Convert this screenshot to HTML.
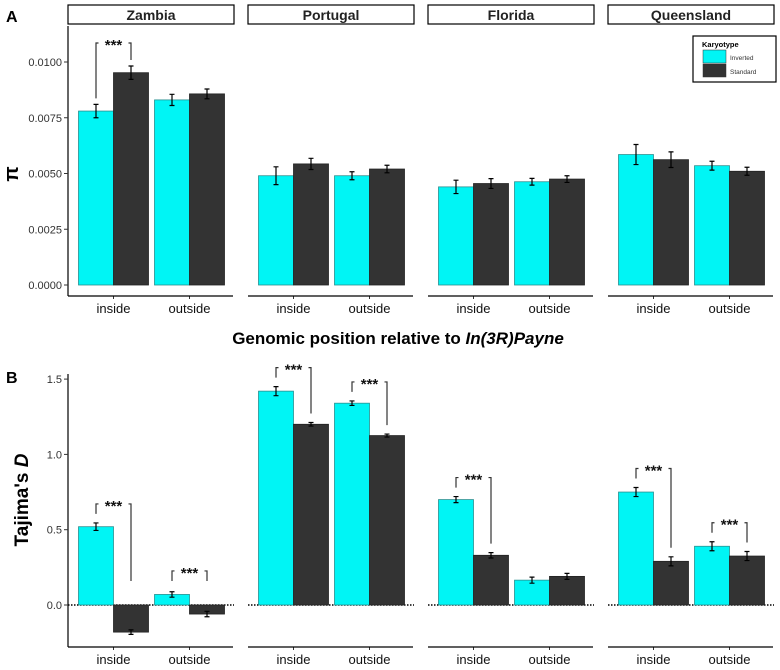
<!DOCTYPE html>
<html><head><meta charset="utf-8">
<style>
body{margin:0;background:#fff;}
svg{display:block;font-family:"Liberation Sans",Arial,sans-serif;}
</style></head>
<body>
<svg id="chart" width="780" height="670" viewBox="0 0 780 670"></svg>
<script>
const regions = ["Zambia","Portugal","Florida","Queensland"];
const positions = ["inside","outside"];
// pi values [region][position] = [inverted, standard]
const piInverted = [[0.0078,0.0083],[0.0049,0.0049],[0.0044,0.00463],[0.00585,0.00535]];
const piStandard = [[0.00952,0.00857],[0.00543,0.0052],[0.00455,0.00475],[0.00562,0.0051]];
const piInvErr = [[0.0003,0.00025],[0.0004,0.00018],[0.0003,0.00015],[0.00045,0.0002]];
const piStdErr = [[0.0003,0.00022],[0.00025,0.00017],[0.00022,0.00015],[0.00035,0.00018]];
const piTicks = [0,0.0025,0.005,0.0075,0.01];
const piTickLabels = ["0.0000","0.0025","0.0050","0.0075","0.0100"];
const piSig = [[true,false],[false,false],[false,false],[false,false]];
const tdInverted = [[0.52,0.07],[1.42,1.34],[0.70,0.165],[0.75,0.39]];
const tdStandard = [[-0.18,-0.06],[1.20,1.125],[0.33,0.19],[0.29,0.325]];
const tdInvErr = [[0.025,0.018],[0.03,0.015],[0.02,0.02],[0.03,0.03]];
const tdStdErr = [[0.015,0.018],[0.012,0.01],[0.018,0.02],[0.03,0.03]];
const tdTicks = [0,0.5,1.0,1.5];
const tdTickLabels = ["0.0","0.5","1.0","1.5"];
const tdSig = [[true,true],[true,true],[true,false],[true,true]];

const svg = document.getElementById('chart');
const NS = 'http://www.w3.org/2000/svg';
function mk(tag, attrs, parent){const e=document.createElementNS(NS,tag);for(const k in attrs)e.setAttribute(k,attrs[k]);(parent||svg).appendChild(e);return e;}
const CYAN="#00f5f5", DARK="#333333";
function panelX(i){return 68+180*i;}
function barX(i,p,s){return panelX(i)+10.5+76*p+35*s;}

function drawPanel(o){
  const y=o.y;
  // y axis
  const ya=mk('line',{x1:68,x2:68,y1:o.axTop,y2:o.axBottom,stroke:'#000','stroke-width':1.2});
  
  o.ticks.forEach((t,k)=>{
    mk('line',{x1:64,x2:68,y1:y(t),y2:y(t),stroke:'#333'});
    const tx=mk('text',{x:62,y:y(t)+4,'text-anchor':'end','font-size':11,fill:'#333'});
    tx.textContent=o.tickLabels[k];
    
  });
  regions.forEach((r,i)=>{
    const px=panelX(i);
    const g=mk('g',{});
    
    if(o.zeroLine){
      const zl=mk('line',{x1:px,x2:px+166,y1:y(0),y2:y(0),stroke:'#000','stroke-width':1.5,'stroke-dasharray':'1.5,1.5'},g);
      
    }
    positions.forEach((pos,p)=>{
      [[o.inv,o.invErr,CYAN],[o.std,o.stdErr,DARK]].forEach((d,s)=>{
        const v=d[0][i][p], e=d[1][i][p];
        const x=barX(i,p,s);
        const y0=y(0), y1=y(v);
        const b=mk('rect',{x:x,y:Math.min(y0,y1),width:35,height:Math.abs(y1-y0),fill:d[2],stroke:s?'#222':'#2a9090','stroke-width':0.8},g);
        
        
        const cx=x+17.5;
        const eb=mk('path',{d:`M${cx},${y(v+e)}V${y(v-e)}M${cx-2.5},${y(v+e)}h5M${cx-2.5},${y(v-e)}h5`,stroke:'#000','stroke-width':1.2,fill:'none'},g);
        
      });
      if(o.sig[i][p]){
        const xa=barX(i,p,0)+17.5, xb=barX(i,p,1)+17.5;
        const ta=Math.max(o.inv[i][p]+o.invErr[i][p],o.minLeg), tb=Math.max(o.std[i][p]+o.stdErr[i][p],o.minLeg);
        const la=y(ta)-o.gap, lb=y(tb)-o.gap;
        const by=Math.min(la,lb)-o.bgap;
        const br=mk('path',{d:`M${xa},${la}V${by}H${xb}V${lb}`,stroke:'#333','stroke-width':1.2,fill:'none'},g);
        
        const st=mk('rect',{x:(xa+xb)/2-15,y:by-3,width:30,height:6,fill:'#fff'},g);
        const tx=mk('text',{x:(xa+xb)/2,y:by+7,'text-anchor':'middle','font-size':15,'font-weight':'bold',fill:'#111'},g);
        tx.textContent='***';
        
      }
      const lx=barX(i,p,1);
      mk('line',{x1:lx,x2:lx,y1:o.axBottom,y2:o.axBottom+3,stroke:'#333'},g);
      const lt=mk('text',{x:lx,y:o.axBottom+17,'text-anchor':'middle','font-size':13,fill:'#111'},g);
      lt.textContent=pos;
      
    });
    const xa=mk('line',{x1:px,x2:px+165,y1:o.axBottom,y2:o.axBottom,stroke:'#000','stroke-width':1.2},g);
    
    if(o.strips){
      const sr=mk('rect',{x:px,y:5,width:166,height:19,fill:'#fff',stroke:'#000','stroke-width':1.2},g);
      
      const stt=mk('text',{x:px+83,y:20,'text-anchor':'middle','font-size':14,'font-weight':'bold',fill:'#222'},g);
      stt.textContent=r;
      
    }
  });
}
const yA=v=>285-v/0.0025*55.75;
drawPanel({name:'pi',y:yA,axTop:26,axBottom:296,ticks:piTicks,tickLabels:piTickLabels,inv:piInverted,std:piStandard,invErr:piInvErr,stdErr:piStdErr,sig:piSig,strips:true,zeroLine:false,minLeg:0,gap:6,bgap:17});
const yB=v=>605-v/0.5*75.3;
drawPanel({name:'tajima',y:yB,axTop:374,axBottom:647,ticks:tdTicks,tickLabels:tdTickLabels,inv:tdInverted,std:tdStandard,invErr:tdInvErr,stdErr:tdStdErr,sig:tdSig,strips:false,zeroLine:true,minLeg:0.1,gap:9,bgap:10});

function txt(a,s,name){const t=mk('text',a);t.innerHTML=s;return t;}
txt({x:6,y:22,'font-size':16,'font-weight':'bold'},'A','panel-a-label');
txt({x:6,y:383,'font-size':16,'font-weight':'bold'},'B','panel-b-label');
txt({x:18,y:174,'font-size':20,'font-weight':'bold',transform:'rotate(-90 18 174)','text-anchor':'middle'},'π','pi-y-axis-title');
txt({x:28,y:500,'font-size':19,'font-weight':'bold',transform:'rotate(-90 28 500)','text-anchor':'middle'},"Tajima's <tspan font-style='italic'>D</tspan>",'tajima-y-axis-title');
txt({x:398,y:344,'font-size':17,'font-weight':'bold','text-anchor':'middle'},"Genomic position relative to <tspan font-style='italic'>In(3R)Payne</tspan>",'x-axis-title');

// legend
const lg=mk('g',{});

mk('rect',{x:693,y:36,width:83,height:46,fill:'#fff',stroke:'#000','stroke-width':1.2},lg);
const lt=mk('text',{x:702,y:47,'font-size':7.5,'font-weight':'bold'},lg);lt.textContent='Karyotype';

[['Inverted',CYAN],['Standard',DARK]].forEach((d,k)=>{
  const sw=mk('rect',{x:703,y:50+k*14,width:23,height:13,fill:d[1],stroke:'#333','stroke-width':0.5},lg);
  
  const t=mk('text',{x:730,y:60+k*14,'font-size':6.5,fill:'#333'},lg);t.textContent=d[0];
  
});
</script>
</body></html>
